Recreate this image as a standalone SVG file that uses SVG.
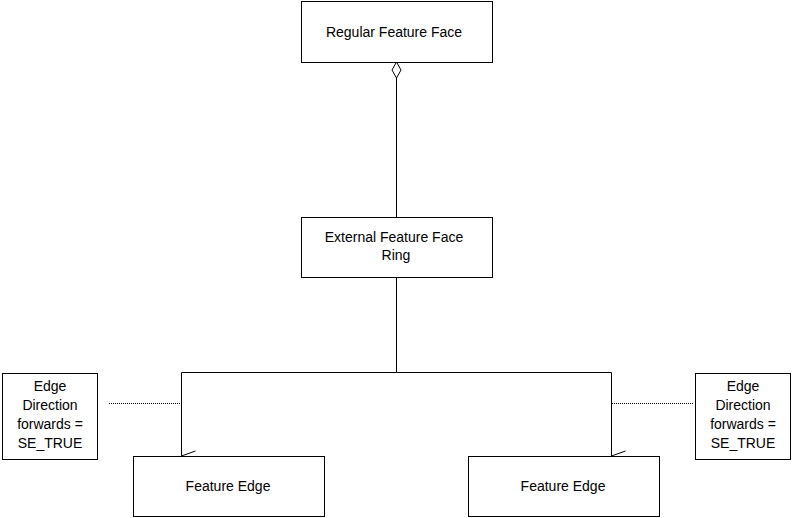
<svg xmlns="http://www.w3.org/2000/svg" width="794" height="518" viewBox="0 0 794 518">
<style>
.b{fill:#fff;stroke:#000;stroke-width:1}
.t{font-family:"Liberation Sans",Arial,sans-serif;font-size:14px;fill:#000;text-anchor:middle}
.l{fill:none;stroke:#000;stroke-width:1}
.d{fill:none;stroke:#000;stroke-width:1;stroke-dasharray:1,1}
</style>
<defs>
<marker id="ar" markerWidth="12" markerHeight="16" refX="6" refY="15" orient="auto" markerUnits="userSpaceOnUse">
<path d="M1,1 L6,15 L11,1" fill="none" stroke="#000"/>
</marker>
</defs>
<rect width="794" height="518" fill="#fff"/>
<g id="connectors">
<path class="l" d="M396.5,78 V217"/>
<path d="M396.5,62 L401,70 L396.5,78 L392,70 Z" fill="#fff" stroke="#000"/>
<path class="l" d="M396.5,277 V372.5 H181.5 V456" marker-end="url(#ar)"/>
<path class="l" d="M396.5,372.5 H611.5 V456" marker-end="url(#ar)"/>
<path class="d" d="M109,403.5 H181"/>
<path class="d" d="M612,403.5 H694"/>
</g>
<g id="regular"><rect class="b" x="301.5" y="1.5" width="191" height="61"/><text class="t" x="394" y="37">Regular Feature Face</text></g>
<g id="external"><rect class="b" x="301.5" y="217.5" width="191" height="60"/><text class="t" x="394" y="242">External Feature Face</text><text class="t" x="396" y="260">Ring</text></g>
<g id="edge1"><rect class="b" x="133.5" y="456.5" width="191" height="60"/><text class="t" x="228" y="491">Feature Edge</text></g>
<g id="edge2"><rect class="b" x="468.5" y="456.5" width="191" height="60"/><text class="t" x="563" y="491">Feature Edge</text></g>
<g id="note1"><rect class="b" x="2.5" y="373.5" width="95" height="86"/><text class="t" x="50" y="391">Edge</text><text class="t" x="50" y="410">Direction</text><text class="t" x="50" y="429">forwards =</text><text class="t" x="50" y="448">SE_TRUE</text></g>
<g id="note2"><rect class="b" x="695.5" y="373.5" width="95" height="86"/><text class="t" x="743" y="391">Edge</text><text class="t" x="743" y="410">Direction</text><text class="t" x="743" y="429">forwards =</text><text class="t" x="743" y="448">SE_TRUE</text></g>
</svg>
